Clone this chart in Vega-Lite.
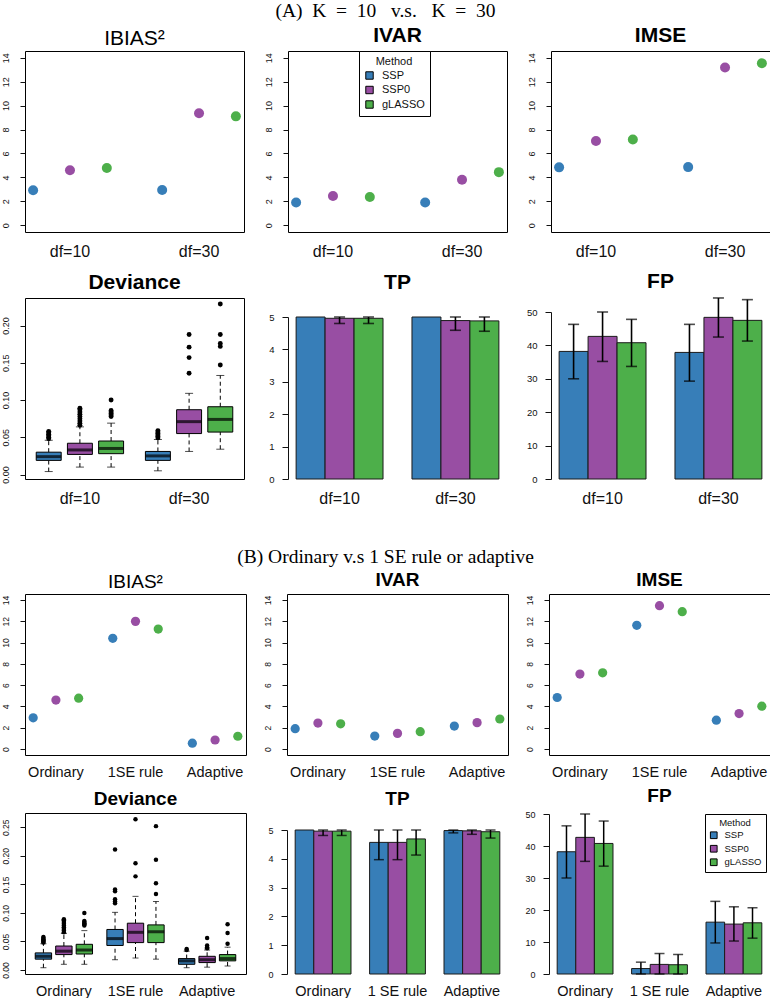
{
  "$schema": "https://vega.github.io/schema/vega-lite/v6.json",
  "background": "white",
  "padding": {"left": 0, "top": 0, "right": 0, "bottom": 0},
  "config": {
    "font": "Liberation Sans",
    "view": {"stroke": "black", "strokeWidth": 1},
    "axis": {"grid": false, "labelColor": "#111111", "tickColor": "#111111", "domainColor": "#111111", "labelFont": "Liberation Sans", "labelOverlap": false, "labelFlush": false},
    "title": {"font": "Liberation Sans", "fontSize": 21, "fontWeight": "bold", "color": "black", "baseline": "alphabetic", "offset": 5, "anchor": "middle"}
  },
  "datasets": {
    "pointsA": [
      {"metric": "IBIAS", "setting": "df=10", "method": "SSP", "value": 2.93},
      {"metric": "IBIAS", "setting": "df=10", "method": "SSP0", "value": 4.6},
      {"metric": "IBIAS", "setting": "df=10", "method": "gLASSO", "value": 4.78},
      {"metric": "IBIAS", "setting": "df=30", "method": "SSP", "value": 2.95},
      {"metric": "IBIAS", "setting": "df=30", "method": "SSP0", "value": 9.36},
      {"metric": "IBIAS", "setting": "df=30", "method": "gLASSO", "value": 9.1},
      {"metric": "IVAR", "setting": "df=10", "method": "SSP", "value": 1.91},
      {"metric": "IVAR", "setting": "df=10", "method": "SSP0", "value": 2.44},
      {"metric": "IVAR", "setting": "df=10", "method": "gLASSO", "value": 2.37},
      {"metric": "IVAR", "setting": "df=30", "method": "SSP", "value": 1.91},
      {"metric": "IVAR", "setting": "df=30", "method": "SSP0", "value": 3.8},
      {"metric": "IVAR", "setting": "df=30", "method": "gLASSO", "value": 4.44},
      {"metric": "IMSE", "setting": "df=10", "method": "SSP", "value": 4.84},
      {"metric": "IMSE", "setting": "df=10", "method": "SSP0", "value": 7.04},
      {"metric": "IMSE", "setting": "df=10", "method": "gLASSO", "value": 7.16},
      {"metric": "IMSE", "setting": "df=30", "method": "SSP", "value": 4.86},
      {"metric": "IMSE", "setting": "df=30", "method": "SSP0", "value": 13.18},
      {"metric": "IMSE", "setting": "df=30", "method": "gLASSO", "value": 13.54}
    ],
    "pointsB": [
      {"metric": "IBIAS", "setting": "Ordinary", "method": "SSP", "value": 2.93},
      {"metric": "IBIAS", "setting": "Ordinary", "method": "SSP0", "value": 4.6},
      {"metric": "IBIAS", "setting": "Ordinary", "method": "gLASSO", "value": 4.78},
      {"metric": "IBIAS", "setting": "1SE rule", "method": "SSP", "value": 10.4},
      {"metric": "IBIAS", "setting": "1SE rule", "method": "SSP0", "value": 11.99},
      {"metric": "IBIAS", "setting": "1SE rule", "method": "gLASSO", "value": 11.27},
      {"metric": "IBIAS", "setting": "Adaptive", "method": "SSP", "value": 0.55},
      {"metric": "IBIAS", "setting": "Adaptive", "method": "SSP0", "value": 0.85},
      {"metric": "IBIAS", "setting": "Adaptive", "method": "gLASSO", "value": 1.2},
      {"metric": "IVAR", "setting": "Ordinary", "method": "SSP", "value": 1.91},
      {"metric": "IVAR", "setting": "Ordinary", "method": "SSP0", "value": 2.44},
      {"metric": "IVAR", "setting": "Ordinary", "method": "gLASSO", "value": 2.37},
      {"metric": "IVAR", "setting": "1SE rule", "method": "SSP", "value": 1.22},
      {"metric": "IVAR", "setting": "1SE rule", "method": "SSP0", "value": 1.47},
      {"metric": "IVAR", "setting": "1SE rule", "method": "gLASSO", "value": 1.63},
      {"metric": "IVAR", "setting": "Adaptive", "method": "SSP", "value": 2.16},
      {"metric": "IVAR", "setting": "Adaptive", "method": "SSP0", "value": 2.48},
      {"metric": "IVAR", "setting": "Adaptive", "method": "gLASSO", "value": 2.82},
      {"metric": "IMSE", "setting": "Ordinary", "method": "SSP", "value": 4.84},
      {"metric": "IMSE", "setting": "Ordinary", "method": "SSP0", "value": 7.04},
      {"metric": "IMSE", "setting": "Ordinary", "method": "gLASSO", "value": 7.16},
      {"metric": "IMSE", "setting": "1SE rule", "method": "SSP", "value": 11.62},
      {"metric": "IMSE", "setting": "1SE rule", "method": "SSP0", "value": 13.46},
      {"metric": "IMSE", "setting": "1SE rule", "method": "gLASSO", "value": 12.9},
      {"metric": "IMSE", "setting": "Adaptive", "method": "SSP", "value": 2.71},
      {"metric": "IMSE", "setting": "Adaptive", "method": "SSP0", "value": 3.33},
      {"metric": "IMSE", "setting": "Adaptive", "method": "gLASSO", "value": 4.02}
    ],
    "boxA": [
      {"setting": "df=10", "method": "SSP", "lo": 0.004, "q1": 0.019, "med": 0.024, "q3": 0.030, "hi": 0.046},
      {"setting": "df=10", "method": "SSP0", "lo": 0.010, "q1": 0.027, "med": 0.033, "q3": 0.042, "hi": 0.064},
      {"setting": "df=10", "method": "gLASSO", "lo": 0.010, "q1": 0.028, "med": 0.035, "q3": 0.045, "hi": 0.069},
      {"setting": "df=30", "method": "SSP", "lo": 0.005, "q1": 0.019, "med": 0.025, "q3": 0.031, "hi": 0.047},
      {"setting": "df=30", "method": "SSP0", "lo": 0.031, "q1": 0.055, "med": 0.071, "q3": 0.087, "hi": 0.109},
      {"setting": "df=30", "method": "gLASSO", "lo": 0.034, "q1": 0.057, "med": 0.074, "q3": 0.091, "hi": 0.133}
    ],
    "outA": [
      {"setting": "df=10", "method": "SSP", "value": 0.048},
      {"setting": "df=10", "method": "SSP", "value": 0.050},
      {"setting": "df=10", "method": "SSP", "value": 0.052},
      {"setting": "df=10", "method": "SSP", "value": 0.054},
      {"setting": "df=10", "method": "SSP", "value": 0.056},
      {"setting": "df=10", "method": "SSP", "value": 0.058},
      {"setting": "df=10", "method": "SSP0", "value": 0.066},
      {"setting": "df=10", "method": "SSP0", "value": 0.069},
      {"setting": "df=10", "method": "SSP0", "value": 0.072},
      {"setting": "df=10", "method": "SSP0", "value": 0.075},
      {"setting": "df=10", "method": "SSP0", "value": 0.078},
      {"setting": "df=10", "method": "SSP0", "value": 0.081},
      {"setting": "df=10", "method": "SSP0", "value": 0.084},
      {"setting": "df=10", "method": "SSP0", "value": 0.087},
      {"setting": "df=10", "method": "SSP0", "value": 0.089},
      {"setting": "df=10", "method": "gLASSO", "value": 0.078},
      {"setting": "df=10", "method": "gLASSO", "value": 0.080},
      {"setting": "df=10", "method": "gLASSO", "value": 0.082},
      {"setting": "df=10", "method": "gLASSO", "value": 0.084},
      {"setting": "df=10", "method": "gLASSO", "value": 0.086},
      {"setting": "df=10", "method": "gLASSO", "value": 0.100},
      {"setting": "df=30", "method": "SSP", "value": 0.049},
      {"setting": "df=30", "method": "SSP", "value": 0.051},
      {"setting": "df=30", "method": "SSP", "value": 0.053},
      {"setting": "df=30", "method": "SSP", "value": 0.055},
      {"setting": "df=30", "method": "SSP", "value": 0.057},
      {"setting": "df=30", "method": "SSP", "value": 0.059},
      {"setting": "df=30", "method": "SSP0", "value": 0.136},
      {"setting": "df=30", "method": "SSP0", "value": 0.157},
      {"setting": "df=30", "method": "SSP0", "value": 0.171},
      {"setting": "df=30", "method": "SSP0", "value": 0.188},
      {"setting": "df=30", "method": "gLASSO", "value": 0.147},
      {"setting": "df=30", "method": "gLASSO", "value": 0.172},
      {"setting": "df=30", "method": "gLASSO", "value": 0.176},
      {"setting": "df=30", "method": "gLASSO", "value": 0.188},
      {"setting": "df=30", "method": "gLASSO", "value": 0.229}
    ],
    "boxB": [
      {"setting": "Ordinary", "method": "SSP", "lo": 0.004, "q1": 0.019, "med": 0.024, "q3": 0.030, "hi": 0.046},
      {"setting": "Ordinary", "method": "SSP0", "lo": 0.010, "q1": 0.027, "med": 0.033, "q3": 0.042, "hi": 0.064},
      {"setting": "Ordinary", "method": "gLASSO", "lo": 0.010, "q1": 0.028, "med": 0.035, "q3": 0.045, "hi": 0.069},
      {"setting": "1SE rule", "method": "SSP", "lo": 0.018, "q1": 0.043, "med": 0.055, "q3": 0.071, "hi": 0.101},
      {"setting": "1SE rule", "method": "SSP0", "lo": 0.021, "q1": 0.048, "med": 0.066, "q3": 0.082, "hi": 0.129},
      {"setting": "1SE rule", "method": "gLASSO", "lo": 0.019, "q1": 0.048, "med": 0.067, "q3": 0.079, "hi": 0.120},
      {"setting": "Adaptive", "method": "SSP", "lo": 0.004, "q1": 0.010, "med": 0.016, "q3": 0.020, "hi": 0.033},
      {"setting": "Adaptive", "method": "SSP0", "lo": 0.005, "q1": 0.013, "med": 0.018, "q3": 0.024, "hi": 0.035},
      {"setting": "Adaptive", "method": "gLASSO", "lo": 0.007, "q1": 0.016, "med": 0.020, "q3": 0.027, "hi": 0.040}
    ],
    "outB": [
      {"setting": "Ordinary", "method": "SSP", "value": 0.048},
      {"setting": "Ordinary", "method": "SSP", "value": 0.050},
      {"setting": "Ordinary", "method": "SSP", "value": 0.052},
      {"setting": "Ordinary", "method": "SSP", "value": 0.054},
      {"setting": "Ordinary", "method": "SSP", "value": 0.056},
      {"setting": "Ordinary", "method": "SSP", "value": 0.058},
      {"setting": "Ordinary", "method": "SSP0", "value": 0.066},
      {"setting": "Ordinary", "method": "SSP0", "value": 0.069},
      {"setting": "Ordinary", "method": "SSP0", "value": 0.072},
      {"setting": "Ordinary", "method": "SSP0", "value": 0.075},
      {"setting": "Ordinary", "method": "SSP0", "value": 0.078},
      {"setting": "Ordinary", "method": "SSP0", "value": 0.081},
      {"setting": "Ordinary", "method": "SSP0", "value": 0.084},
      {"setting": "Ordinary", "method": "SSP0", "value": 0.087},
      {"setting": "Ordinary", "method": "SSP0", "value": 0.089},
      {"setting": "Ordinary", "method": "gLASSO", "value": 0.078},
      {"setting": "Ordinary", "method": "gLASSO", "value": 0.080},
      {"setting": "Ordinary", "method": "gLASSO", "value": 0.082},
      {"setting": "Ordinary", "method": "gLASSO", "value": 0.084},
      {"setting": "Ordinary", "method": "gLASSO", "value": 0.086},
      {"setting": "Ordinary", "method": "gLASSO", "value": 0.100},
      {"setting": "1SE rule", "method": "SSP", "value": 0.117},
      {"setting": "1SE rule", "method": "SSP", "value": 0.120},
      {"setting": "1SE rule", "method": "SSP", "value": 0.124},
      {"setting": "1SE rule", "method": "SSP", "value": 0.138},
      {"setting": "1SE rule", "method": "SSP", "value": 0.141},
      {"setting": "1SE rule", "method": "SSP", "value": 0.211},
      {"setting": "1SE rule", "method": "SSP0", "value": 0.164},
      {"setting": "1SE rule", "method": "SSP0", "value": 0.187},
      {"setting": "1SE rule", "method": "SSP0", "value": 0.264},
      {"setting": "1SE rule", "method": "gLASSO", "value": 0.133},
      {"setting": "1SE rule", "method": "gLASSO", "value": 0.152},
      {"setting": "1SE rule", "method": "gLASSO", "value": 0.193},
      {"setting": "1SE rule", "method": "gLASSO", "value": 0.252},
      {"setting": "Adaptive", "method": "SSP", "value": 0.035},
      {"setting": "Adaptive", "method": "SSP", "value": 0.037},
      {"setting": "Adaptive", "method": "SSP0", "value": 0.038},
      {"setting": "Adaptive", "method": "SSP0", "value": 0.040},
      {"setting": "Adaptive", "method": "SSP0", "value": 0.043},
      {"setting": "Adaptive", "method": "SSP0", "value": 0.056},
      {"setting": "Adaptive", "method": "gLASSO", "value": 0.046},
      {"setting": "Adaptive", "method": "gLASSO", "value": 0.065},
      {"setting": "Adaptive", "method": "gLASSO", "value": 0.080}
    ],
    "barsA": [
      {"metric": "TP", "setting": "df=10", "method": "SSP", "value": 5.0, "lower": null, "upper": null},
      {"metric": "TP", "setting": "df=10", "method": "SSP0", "value": 4.96, "lower": 4.8, "upper": 5.0},
      {"metric": "TP", "setting": "df=10", "method": "gLASSO", "value": 4.96, "lower": 4.8, "upper": 5.0},
      {"metric": "TP", "setting": "df=30", "method": "SSP", "value": 5.0, "lower": null, "upper": null},
      {"metric": "TP", "setting": "df=30", "method": "SSP0", "value": 4.89, "lower": 4.59, "upper": 5.0},
      {"metric": "TP", "setting": "df=30", "method": "gLASSO", "value": 4.88, "lower": 4.56, "upper": 5.0},
      {"metric": "FP", "setting": "df=10", "method": "SSP", "value": 38.2, "lower": 30.0, "upper": 46.3},
      {"metric": "FP", "setting": "df=10", "method": "SSP0", "value": 42.7, "lower": 35.2, "upper": 50.0},
      {"metric": "FP", "setting": "df=10", "method": "gLASSO", "value": 40.8, "lower": 33.7, "upper": 47.8},
      {"metric": "FP", "setting": "df=30", "method": "SSP", "value": 37.9, "lower": 29.3, "upper": 46.3},
      {"metric": "FP", "setting": "df=30", "method": "SSP0", "value": 48.4, "lower": 42.5, "upper": 54.2},
      {"metric": "FP", "setting": "df=30", "method": "gLASSO", "value": 47.5, "lower": 41.3, "upper": 53.7}
    ],
    "barsB": [
      {"metric": "TP", "setting": "Ordinary", "method": "SSP", "value": 5.0, "lower": null, "upper": null},
      {"metric": "TP", "setting": "Ordinary", "method": "SSP0", "value": 4.96, "lower": 4.81, "upper": 5.0},
      {"metric": "TP", "setting": "Ordinary", "method": "gLASSO", "value": 4.96, "lower": 4.81, "upper": 5.0},
      {"metric": "TP", "setting": "1 SE rule", "method": "SSP", "value": 4.57, "lower": 3.97, "upper": 5.0},
      {"metric": "TP", "setting": "1 SE rule", "method": "SSP0", "value": 4.57, "lower": 3.97, "upper": 5.0},
      {"metric": "TP", "setting": "1 SE rule", "method": "gLASSO", "value": 4.69, "lower": 4.13, "upper": 5.0},
      {"metric": "TP", "setting": "Adaptive", "method": "SSP", "value": 4.98, "lower": 4.9, "upper": 5.0},
      {"metric": "TP", "setting": "Adaptive", "method": "SSP0", "value": 4.97, "lower": 4.85, "upper": 5.0},
      {"metric": "TP", "setting": "Adaptive", "method": "gLASSO", "value": 4.94, "lower": 4.72, "upper": 5.0},
      {"metric": "FP", "setting": "Ordinary", "method": "SSP", "value": 38.2, "lower": 30.0, "upper": 46.3},
      {"metric": "FP", "setting": "Ordinary", "method": "SSP0", "value": 42.7, "lower": 35.2, "upper": 50.0},
      {"metric": "FP", "setting": "Ordinary", "method": "gLASSO", "value": 40.8, "lower": 33.7, "upper": 47.8},
      {"metric": "FP", "setting": "1 SE rule", "method": "SSP", "value": 1.7, "lower": 0.0, "upper": 3.7},
      {"metric": "FP", "setting": "1 SE rule", "method": "SSP0", "value": 3.0, "lower": 0.0, "upper": 6.4},
      {"metric": "FP", "setting": "1 SE rule", "method": "gLASSO", "value": 2.9, "lower": 0.0, "upper": 6.1},
      {"metric": "FP", "setting": "Adaptive", "method": "SSP", "value": 16.2, "lower": 9.7, "upper": 22.7},
      {"metric": "FP", "setting": "Adaptive", "method": "SSP0", "value": 15.6, "lower": 10.3, "upper": 21.0},
      {"metric": "FP", "setting": "Adaptive", "method": "gLASSO", "value": 16.0, "lower": 11.2, "upper": 20.7}
    ]
  },
  "resolve": {"scale": {"color": "independent", "xOffset": "independent"}},
  "spacing": 39,
  "vconcat": [
    {
      "title": {"text": "(A)\u00a0 K\u00a0 =\u00a0 10\u00a0\u00a0 v.s.\u00a0\u00a0 K\u00a0 =\u00a0 30", "font": "Liberation Serif", "fontSize": 19.5, "fontWeight": "normal", "anchor": "middle", "frame": "bounds", "baseline": "alphabetic", "offset": -12},
      "columns": 3,
      "bounds": "flush",
      "spacing": {"row": 66, "column": 44},
      "resolve": {"scale": {"color": "independent", "xOffset": "independent"}},
      "concat": [
        {
          "width": 219, "height": 181,
          "title": {"text": "IBIAS²", "fontWeight": "normal", "offset": 2.5},
          "data": {"name": "pointsA"},
          "transform": [{"filter": "datum.metric === 'IBIAS'"}],
          "mark": {"type": "circle", "size": 100, "opacity": 1},
          "encoding": {
            "x": {"field": "setting", "type": "nominal", "sort": ["df=10", "df=30"], "title": null, "scale": {"paddingInner": 0.303, "paddingOuter": 0}, "axis": {"labelAngle": 0, "labelFontSize": 16, "ticks": false, "tickSize": 0, "domain": false, "labelPadding": 24, "labelBaseline": "alphabetic"}},
            "xOffset": {"field": "method", "type": "nominal", "sort": ["SSP", "SSP0", "gLASSO"], "scale": {"type": "point", "padding": 0.22}},
            "y": {"field": "value", "type": "quantitative", "title": null, "scale": {"domain": [-0.56, 14.56], "nice": false, "zero": false}, "axis": {"values": [0, 2, 4, 6, 8, 10, 12, 14], "labelAngle": 270, "labelAlign": "center", "labelBaseline": "bottom", "labelFontSize": 9, "tickSize": 5, "labelPadding": 10, "domain": false}},
            "color": {"field": "method", "type": "nominal", "scale": {"domain": ["SSP", "SSP0", "gLASSO"], "range": ["#377EB8", "#984EA3", "#4DAF4A"]}, "legend": null}
          }
        },
        {
          "width": 219, "height": 181,
          "title": "IVAR",
          "data": {"name": "pointsA"},
          "transform": [{"filter": "datum.metric === 'IVAR'"}],
          "mark": {"type": "circle", "size": 100, "opacity": 1},
          "encoding": {
            "x": {"field": "setting", "type": "nominal", "sort": ["df=10", "df=30"], "title": null, "scale": {"paddingInner": 0.303, "paddingOuter": 0}, "axis": {"labelAngle": 0, "labelFontSize": 16, "ticks": false, "tickSize": 0, "domain": false, "labelPadding": 24, "labelBaseline": "alphabetic"}},
            "xOffset": {"field": "method", "type": "nominal", "sort": ["SSP", "SSP0", "gLASSO"], "scale": {"type": "point", "padding": 0.22}},
            "y": {"field": "value", "type": "quantitative", "title": null, "scale": {"domain": [-0.56, 14.56], "nice": false, "zero": false}, "axis": {"values": [0, 2, 4, 6, 8, 10, 12, 14], "labelAngle": 270, "labelAlign": "center", "labelBaseline": "bottom", "labelFontSize": 9, "tickSize": 5, "labelPadding": 10, "domain": false}},
            "color": {"field": "method", "type": "nominal", "title": "Method", "scale": {"domain": ["SSP", "SSP0", "gLASSO"], "range": ["#377EB8", "#984EA3", "#4DAF4A"]},
              "legend": {"orient": "none", "legendX": 71, "legendY": 0, "titleAnchor": "middle", "titleFontWeight": "normal", "titleFontSize": 11, "titleColor": "#111111", "labelFontSize": 11, "labelColor": "#111111", "labelOffset": 7, "symbolType": "square", "symbolSize": 55, "symbolStrokeColor": "black", "symbolStrokeWidth": 1, "symbolOpacity": 1, "strokeColor": "black", "fillColor": "white", "padding": 5, "rowPadding": 1.5, "titlePadding": 3}}
          }
        },
        {
          "width": 219, "height": 181,
          "title": "IMSE",
          "data": {"name": "pointsA"},
          "transform": [{"filter": "datum.metric === 'IMSE'"}],
          "mark": {"type": "circle", "size": 100, "opacity": 1},
          "encoding": {
            "x": {"field": "setting", "type": "nominal", "sort": ["df=10", "df=30"], "title": null, "scale": {"paddingInner": 0.303, "paddingOuter": 0}, "axis": {"labelAngle": 0, "labelFontSize": 16, "ticks": false, "tickSize": 0, "domain": false, "labelPadding": 24, "labelBaseline": "alphabetic"}},
            "xOffset": {"field": "method", "type": "nominal", "sort": ["SSP", "SSP0", "gLASSO"], "scale": {"type": "point", "padding": 0.22}},
            "y": {"field": "value", "type": "quantitative", "title": null, "scale": {"domain": [-0.56, 14.56], "nice": false, "zero": false}, "axis": {"values": [0, 2, 4, 6, 8, 10, 12, 14], "labelAngle": 270, "labelAlign": "center", "labelBaseline": "bottom", "labelFontSize": 9, "tickSize": 5, "labelPadding": 10, "domain": false}},
            "color": {"field": "method", "type": "nominal", "scale": {"domain": ["SSP", "SSP0", "gLASSO"], "range": ["#377EB8", "#984EA3", "#4DAF4A"]}, "legend": null}
          }
        },
        {
          "width": 219, "height": 181,
          "title": "Deviance",
          "encoding": {
            "x": {"field": "setting", "type": "nominal", "sort": ["df=10", "df=30"], "title": null, "scale": {"paddingInner": 0.1429, "paddingOuter": 0.0743}, "axis": {"labelAngle": 0, "labelFontSize": 16, "ticks": false, "tickSize": 0, "domain": false, "labelPadding": 24, "labelBaseline": "alphabetic"}},
            "xOffset": {"field": "method", "type": "nominal", "sort": ["SSP", "SSP0", "gLASSO"], "scale": {"paddingInner": 0.2, "paddingOuter": 0.1}}
          },
          "layer": [
            {
              "data": {"name": "boxA"},
              "mark": {"type": "rule", "color": "black", "strokeWidth": 1, "strokeDash": [4, 3]},
              "encoding": {
                "y": {"field": "lo", "type": "quantitative", "title": null, "scale": {"domain": [-0.006, 0.237], "nice": false, "zero": false}, "axis": {"values": [0, 0.05, 0.1, 0.15, 0.2], "format": ".2f", "labelAngle": 270, "labelAlign": "center", "labelBaseline": "bottom", "labelFontSize": 9, "tickSize": 5, "labelPadding": 10, "domain": false}},
                "y2": {"field": "q1"}
              }
            },
            {
              "data": {"name": "boxA"},
              "mark": {"type": "rule", "color": "black", "strokeWidth": 1, "strokeDash": [4, 3]},
              "encoding": {"y": {"field": "q3", "type": "quantitative", "title": null, "axis": {"values": [0, 0.05, 0.1, 0.15, 0.2], "format": ".2f", "labelAngle": 270, "labelAlign": "center", "labelBaseline": "bottom", "labelFontSize": 9, "tickSize": 5, "labelPadding": 10, "domain": false}}, "y2": {"field": "hi"}}
            },
            {
              "data": {"name": "boxA"},
              "mark": {"type": "tick", "orient": "horizontal", "size": 8, "thickness": 1, "color": "black"},
              "encoding": {"y": {"field": "lo", "type": "quantitative", "title": null, "axis": {"values": [0, 0.05, 0.1, 0.15, 0.2], "format": ".2f", "labelAngle": 270, "labelAlign": "center", "labelBaseline": "bottom", "labelFontSize": 9, "tickSize": 5, "labelPadding": 10, "domain": false}}}
            },
            {
              "data": {"name": "boxA"},
              "mark": {"type": "tick", "orient": "horizontal", "size": 8, "thickness": 1, "color": "black"},
              "encoding": {"y": {"field": "hi", "type": "quantitative", "title": null, "axis": {"values": [0, 0.05, 0.1, 0.15, 0.2], "format": ".2f", "labelAngle": 270, "labelAlign": "center", "labelBaseline": "bottom", "labelFontSize": 9, "tickSize": 5, "labelPadding": 10, "domain": false}}}
            },
            {
              "data": {"name": "boxA"},
              "mark": {"type": "bar", "stroke": "black", "strokeWidth": 1, "opacity": 1},
              "encoding": {
                "y": {"field": "q1", "type": "quantitative", "title": null, "axis": {"values": [0, 0.05, 0.1, 0.15, 0.2], "format": ".2f", "labelAngle": 270, "labelAlign": "center", "labelBaseline": "bottom", "labelFontSize": 9, "tickSize": 5, "labelPadding": 10, "domain": false}}, "y2": {"field": "q3"},
                "color": {"field": "method", "type": "nominal", "scale": {"domain": ["SSP", "SSP0", "gLASSO"], "range": ["#377EB8", "#984EA3", "#4DAF4A"]}, "legend": null}
              }
            },
            {
              "data": {"name": "boxA"},
              "mark": {"type": "tick", "orient": "horizontal", "size": 25, "thickness": 3, "color": "black"},
              "encoding": {"y": {"field": "med", "type": "quantitative", "title": null, "axis": {"values": [0, 0.05, 0.1, 0.15, 0.2], "format": ".2f", "labelAngle": 270, "labelAlign": "center", "labelBaseline": "bottom", "labelFontSize": 9, "tickSize": 5, "labelPadding": 10, "domain": false}}}
            },
            {
              "data": {"name": "outA"},
              "mark": {"type": "circle", "size": 24, "color": "black", "opacity": 1},
              "encoding": {"y": {"field": "value", "type": "quantitative", "title": null, "axis": {"values": [0, 0.05, 0.1, 0.15, 0.2], "format": ".2f", "labelAngle": 270, "labelAlign": "center", "labelBaseline": "bottom", "labelFontSize": 9, "tickSize": 5, "labelPadding": 10, "domain": false}}}
            }
          ]
        },
        {
          "width": 219, "height": 181,
          "title": "TP",
          "view": {"stroke": null},
          "data": {"name": "barsA"},
          "transform": [{"filter": "datum.metric === 'TP'"}],
          "encoding": {
            "x": {"field": "setting", "type": "nominal", "sort": ["df=10", "df=30"], "title": null, "scale": {"paddingInner": 0.25, "paddingOuter": 0.07}, "axis": {"labelAngle": 0, "labelFontSize": 16, "ticks": false, "tickSize": 0, "domain": false, "labelPadding": 24, "labelBaseline": "alphabetic"}},
            "xOffset": {"field": "method", "type": "nominal", "sort": ["SSP", "SSP0", "gLASSO"], "scale": {"paddingInner": 0, "paddingOuter": 0}}
          },
          "layer": [
            {
              "mark": {"type": "bar", "stroke": "#1a1a1a", "strokeWidth": 1, "opacity": 1},
              "encoding": {
                "y": {"field": "value", "type": "quantitative", "title": null, "scale": {"domain": [0, 5], "range": [181, 19], "nice": false}, "axis": {"values": [0, 1, 2, 3, 4, 5], "labelAngle": 0, "labelFontSize": 9.5, "tickSize": 6, "labelPadding": 8, "domain": true, "labelOverlap": false}},
                "color": {"field": "method", "type": "nominal", "scale": {"domain": ["SSP", "SSP0", "gLASSO"], "range": ["#377EB8", "#984EA3", "#4DAF4A"]}, "legend": null}
              }
            },
            {"mark": {"type": "rule", "color": "black", "strokeWidth": 1.6}, "encoding": {"y": {"field": "lower", "type": "quantitative", "title": null, "axis": {"values": [0, 1, 2, 3, 4, 5], "labelAngle": 0, "labelFontSize": 9.5, "tickSize": 6, "labelPadding": 8, "domain": true, "labelOverlap": false}}, "y2": {"field": "upper"}}},
            {"mark": {"type": "tick", "orient": "horizontal", "size": 11, "thickness": 1.6, "color": "black"}, "encoding": {"y": {"field": "lower", "type": "quantitative", "title": null, "axis": {"values": [0, 1, 2, 3, 4, 5], "labelAngle": 0, "labelFontSize": 9.5, "tickSize": 6, "labelPadding": 8, "domain": true, "labelOverlap": false}}}},
            {"mark": {"type": "tick", "orient": "horizontal", "size": 11, "thickness": 1.6, "color": "black"}, "encoding": {"y": {"field": "upper", "type": "quantitative", "title": null, "axis": {"values": [0, 1, 2, 3, 4, 5], "labelAngle": 0, "labelFontSize": 9.5, "tickSize": 6, "labelPadding": 8, "domain": true, "labelOverlap": false}}}}
          ]
        },
        {
          "width": 219, "height": 181,
          "title": "FP",
          "view": {"stroke": null},
          "data": {"name": "barsA"},
          "transform": [{"filter": "datum.metric === 'FP'"}],
          "encoding": {
            "x": {"field": "setting", "type": "nominal", "sort": ["df=10", "df=30"], "title": null, "scale": {"paddingInner": 0.25, "paddingOuter": 0.07}, "axis": {"labelAngle": 0, "labelFontSize": 16, "ticks": false, "tickSize": 0, "domain": false, "labelPadding": 24, "labelBaseline": "alphabetic"}},
            "xOffset": {"field": "method", "type": "nominal", "sort": ["SSP", "SSP0", "gLASSO"], "scale": {"paddingInner": 0, "paddingOuter": 0}}
          },
          "layer": [
            {
              "mark": {"type": "bar", "stroke": "#1a1a1a", "strokeWidth": 1, "opacity": 1},
              "encoding": {
                "y": {"field": "value", "type": "quantitative", "title": null, "scale": {"domain": [0, 50], "range": [181, 14], "nice": false}, "axis": {"values": [0, 10, 20, 30, 40, 50], "labelAngle": 0, "labelFontSize": 9.5, "tickSize": 6, "labelPadding": 8, "domain": true, "labelOverlap": false}},
                "color": {"field": "method", "type": "nominal", "scale": {"domain": ["SSP", "SSP0", "gLASSO"], "range": ["#377EB8", "#984EA3", "#4DAF4A"]}, "legend": null}
              }
            },
            {"mark": {"type": "rule", "color": "black", "strokeWidth": 1.6}, "encoding": {"y": {"field": "lower", "type": "quantitative", "title": null, "axis": {"values": [0, 10, 20, 30, 40, 50], "labelAngle": 0, "labelFontSize": 9.5, "tickSize": 6, "labelPadding": 8, "domain": true, "labelOverlap": false}}, "y2": {"field": "upper"}}},
            {"mark": {"type": "tick", "orient": "horizontal", "size": 11, "thickness": 1.6, "color": "black"}, "encoding": {"y": {"field": "lower", "type": "quantitative", "title": null, "axis": {"values": [0, 10, 20, 30, 40, 50], "labelAngle": 0, "labelFontSize": 9.5, "tickSize": 6, "labelPadding": 8, "domain": true, "labelOverlap": false}}}},
            {"mark": {"type": "tick", "orient": "horizontal", "size": 11, "thickness": 1.6, "color": "black"}, "encoding": {"y": {"field": "upper", "type": "quantitative", "title": null, "axis": {"values": [0, 10, 20, 30, 40, 50], "labelAngle": 0, "labelFontSize": 9.5, "tickSize": 6, "labelPadding": 8, "domain": true, "labelOverlap": false}}}}
          ]
        }
      ]
    },
    {
      "title": {"text": "(B) Ordinary v.s 1 SE rule or adaptive", "font": "Liberation Serif", "fontSize": 19.5, "fontWeight": "normal", "anchor": "middle", "frame": "bounds", "baseline": "alphabetic", "offset": -12},
      "columns": 3,
      "bounds": "flush",
      "spacing": {"row": 58, "column": 41},
      "resolve": {"scale": {"color": "independent", "xOffset": "independent"}},
      "concat": [
        {
          "width": 221, "height": 161,
          "title": {"text": "IBIAS²", "fontWeight": "normal", "fontSize": 19, "offset": 2},
          "data": {"name": "pointsB"},
          "transform": [{"filter": "datum.metric === 'IBIAS'"}],
          "mark": {"type": "circle", "size": 85, "opacity": 1},
          "encoding": {
            "x": {"field": "setting", "type": "nominal", "sort": ["Ordinary", "1SE rule", "Adaptive"], "title": null, "scale": {"paddingInner": 0.2229, "paddingOuter": 0}, "axis": {"labelAngle": 0, "labelFontSize": 14.5, "ticks": false, "tickSize": 0, "domain": false, "labelPadding": 21, "labelBaseline": "alphabetic"}},
            "xOffset": {"field": "method", "type": "nominal", "sort": ["SSP", "SSP0", "gLASSO"], "scale": {"type": "point", "padding": 0.36}},
            "y": {"field": "value", "type": "quantitative", "title": null, "scale": {"domain": [-0.56, 14.56], "nice": false, "zero": false}, "axis": {"values": [0, 2, 4, 6, 8, 10, 12, 14], "labelAngle": 270, "labelAlign": "center", "labelBaseline": "bottom", "labelFontSize": 8.5, "tickSize": 5, "labelPadding": 10, "domain": false}},
            "color": {"field": "method", "type": "nominal", "scale": {"domain": ["SSP", "SSP0", "gLASSO"], "range": ["#377EB8", "#984EA3", "#4DAF4A"]}, "legend": null}
          }
        },
        {
          "width": 221, "height": 161,
          "title": {"text": "IVAR", "fontSize": 19, "offset": 4.5},
          "data": {"name": "pointsB"},
          "transform": [{"filter": "datum.metric === 'IVAR'"}],
          "mark": {"type": "circle", "size": 85, "opacity": 1},
          "encoding": {
            "x": {"field": "setting", "type": "nominal", "sort": ["Ordinary", "1SE rule", "Adaptive"], "title": null, "scale": {"paddingInner": 0.2229, "paddingOuter": 0}, "axis": {"labelAngle": 0, "labelFontSize": 14.5, "ticks": false, "tickSize": 0, "domain": false, "labelPadding": 21, "labelBaseline": "alphabetic"}},
            "xOffset": {"field": "method", "type": "nominal", "sort": ["SSP", "SSP0", "gLASSO"], "scale": {"type": "point", "padding": 0.36}},
            "y": {"field": "value", "type": "quantitative", "title": null, "scale": {"domain": [-0.56, 14.56], "nice": false, "zero": false}, "axis": {"values": [0, 2, 4, 6, 8, 10, 12, 14], "labelAngle": 270, "labelAlign": "center", "labelBaseline": "bottom", "labelFontSize": 8.5, "tickSize": 5, "labelPadding": 10, "domain": false}},
            "color": {"field": "method", "type": "nominal", "scale": {"domain": ["SSP", "SSP0", "gLASSO"], "range": ["#377EB8", "#984EA3", "#4DAF4A"]}, "legend": null}
          }
        },
        {
          "width": 221, "height": 161,
          "title": {"text": "IMSE", "fontSize": 19, "offset": 4.5},
          "data": {"name": "pointsB"},
          "transform": [{"filter": "datum.metric === 'IMSE'"}],
          "mark": {"type": "circle", "size": 85, "opacity": 1},
          "encoding": {
            "x": {"field": "setting", "type": "nominal", "sort": ["Ordinary", "1SE rule", "Adaptive"], "title": null, "scale": {"paddingInner": 0.2229, "paddingOuter": 0}, "axis": {"labelAngle": 0, "labelFontSize": 14.5, "ticks": false, "tickSize": 0, "domain": false, "labelPadding": 21, "labelBaseline": "alphabetic"}},
            "xOffset": {"field": "method", "type": "nominal", "sort": ["SSP", "SSP0", "gLASSO"], "scale": {"type": "point", "padding": 0.36}},
            "y": {"field": "value", "type": "quantitative", "title": null, "scale": {"domain": [-0.56, 14.56], "nice": false, "zero": false}, "axis": {"values": [0, 2, 4, 6, 8, 10, 12, 14], "labelAngle": 270, "labelAlign": "center", "labelBaseline": "bottom", "labelFontSize": 8.5, "tickSize": 5, "labelPadding": 10, "domain": false}},
            "color": {"field": "method", "type": "nominal", "scale": {"domain": ["SSP", "SSP0", "gLASSO"], "range": ["#377EB8", "#984EA3", "#4DAF4A"]}, "legend": null}
          }
        },
        {
          "width": 221, "height": 161,
          "title": {"text": "Deviance", "fontSize": 19, "offset": 4.5},
          "encoding": {
            "x": {"field": "setting", "type": "nominal", "sort": ["Ordinary", "1SE rule", "Adaptive"], "title": null, "scale": {"paddingInner": 0.1429, "paddingOuter": 0.1143}, "axis": {"labelAngle": 0, "labelFontSize": 14.5, "ticks": false, "tickSize": 0, "domain": false, "labelPadding": 21, "labelBaseline": "alphabetic"}},
            "xOffset": {"field": "method", "type": "nominal", "sort": ["SSP", "SSP0", "gLASSO"], "scale": {"paddingInner": 0.2, "paddingOuter": 0.1}}
          },
          "layer": [
            {
              "data": {"name": "boxB"},
              "mark": {"type": "rule", "color": "black", "strokeWidth": 1, "strokeDash": [4, 3]},
              "encoding": {
                "y": {"field": "lo", "type": "quantitative", "title": null, "scale": {"domain": [-0.007, 0.275], "nice": false, "zero": false}, "axis": {"values": [0, 0.05, 0.1, 0.15, 0.2, 0.25], "format": ".2f", "labelAngle": 270, "labelAlign": "center", "labelBaseline": "bottom", "labelFontSize": 8.5, "tickSize": 5, "labelPadding": 10, "domain": false}},
                "y2": {"field": "q1"}
              }
            },
            {
              "data": {"name": "boxB"},
              "mark": {"type": "rule", "color": "black", "strokeWidth": 1, "strokeDash": [4, 3]},
              "encoding": {"y": {"field": "q3", "type": "quantitative", "title": null, "axis": {"values": [0, 0.05, 0.1, 0.15, 0.2, 0.25], "format": ".2f", "labelAngle": 270, "labelAlign": "center", "labelBaseline": "bottom", "labelFontSize": 8.5, "tickSize": 5, "labelPadding": 10, "domain": false}}, "y2": {"field": "hi"}}
            },
            {
              "data": {"name": "boxB"},
              "mark": {"type": "tick", "orient": "horizontal", "size": 6, "thickness": 1, "color": "black"},
              "encoding": {"y": {"field": "lo", "type": "quantitative", "title": null, "axis": {"values": [0, 0.05, 0.1, 0.15, 0.2, 0.25], "format": ".2f", "labelAngle": 270, "labelAlign": "center", "labelBaseline": "bottom", "labelFontSize": 8.5, "tickSize": 5, "labelPadding": 10, "domain": false}}}
            },
            {
              "data": {"name": "boxB"},
              "mark": {"type": "tick", "orient": "horizontal", "size": 6, "thickness": 1, "color": "black"},
              "encoding": {"y": {"field": "hi", "type": "quantitative", "title": null, "axis": {"values": [0, 0.05, 0.1, 0.15, 0.2, 0.25], "format": ".2f", "labelAngle": 270, "labelAlign": "center", "labelBaseline": "bottom", "labelFontSize": 8.5, "tickSize": 5, "labelPadding": 10, "domain": false}}}
            },
            {
              "data": {"name": "boxB"},
              "mark": {"type": "bar", "stroke": "black", "strokeWidth": 1, "opacity": 1},
              "encoding": {
                "y": {"field": "q1", "type": "quantitative", "title": null, "axis": {"values": [0, 0.05, 0.1, 0.15, 0.2, 0.25], "format": ".2f", "labelAngle": 270, "labelAlign": "center", "labelBaseline": "bottom", "labelFontSize": 8.5, "tickSize": 5, "labelPadding": 10, "domain": false}}, "y2": {"field": "q3"},
                "color": {"field": "method", "type": "nominal", "scale": {"domain": ["SSP", "SSP0", "gLASSO"], "range": ["#377EB8", "#984EA3", "#4DAF4A"]}, "legend": null}
              }
            },
            {
              "data": {"name": "boxB"},
              "mark": {"type": "tick", "orient": "horizontal", "size": 16.4, "thickness": 3, "color": "black"},
              "encoding": {"y": {"field": "med", "type": "quantitative", "title": null, "axis": {"values": [0, 0.05, 0.1, 0.15, 0.2, 0.25], "format": ".2f", "labelAngle": 270, "labelAlign": "center", "labelBaseline": "bottom", "labelFontSize": 8.5, "tickSize": 5, "labelPadding": 10, "domain": false}}}
            },
            {
              "data": {"name": "outB"},
              "mark": {"type": "circle", "size": 20, "color": "black", "opacity": 1},
              "encoding": {"y": {"field": "value", "type": "quantitative", "title": null, "axis": {"values": [0, 0.05, 0.1, 0.15, 0.2, 0.25], "format": ".2f", "labelAngle": 270, "labelAlign": "center", "labelBaseline": "bottom", "labelFontSize": 8.5, "tickSize": 5, "labelPadding": 10, "domain": false}}}
            }
          ]
        },
        {
          "width": 221, "height": 161,
          "title": {"text": "TP", "fontSize": 19, "offset": 4.5},
          "view": {"stroke": null},
          "data": {"name": "barsB"},
          "transform": [{"filter": "datum.metric === 'TP'"}],
          "encoding": {
            "x": {"field": "setting", "type": "nominal", "sort": ["Ordinary", "1 SE rule", "Adaptive"], "title": null, "scale": {"paddingInner": 0.25, "paddingOuter": 0.11}, "axis": {"labelAngle": 0, "labelFontSize": 14.5, "ticks": false, "tickSize": 0, "domain": false, "labelPadding": 21, "labelBaseline": "alphabetic"}},
            "xOffset": {"field": "method", "type": "nominal", "sort": ["SSP", "SSP0", "gLASSO"], "scale": {"paddingInner": 0, "paddingOuter": 0}}
          },
          "layer": [
            {
              "mark": {"type": "bar", "stroke": "#1a1a1a", "strokeWidth": 1, "opacity": 1},
              "encoding": {
                "y": {"field": "value", "type": "quantitative", "title": null, "scale": {"domain": [0, 5], "range": [161, 17], "nice": false}, "axis": {"values": [0, 1, 2, 3, 4, 5], "labelAngle": 0, "labelFontSize": 9, "tickSize": 6, "labelPadding": 8, "domain": true, "labelOverlap": false}},
                "color": {"field": "method", "type": "nominal", "scale": {"domain": ["SSP", "SSP0", "gLASSO"], "range": ["#377EB8", "#984EA3", "#4DAF4A"]}, "legend": null}
              }
            },
            {"mark": {"type": "rule", "color": "black", "strokeWidth": 1.5}, "encoding": {"y": {"field": "lower", "type": "quantitative", "title": null, "axis": {"values": [0, 1, 2, 3, 4, 5], "labelAngle": 0, "labelFontSize": 9, "tickSize": 6, "labelPadding": 8, "domain": true, "labelOverlap": false}}, "y2": {"field": "upper"}}},
            {"mark": {"type": "tick", "orient": "horizontal", "size": 10, "thickness": 1.5, "color": "black"}, "encoding": {"y": {"field": "lower", "type": "quantitative", "title": null, "axis": {"values": [0, 1, 2, 3, 4, 5], "labelAngle": 0, "labelFontSize": 9, "tickSize": 6, "labelPadding": 8, "domain": true, "labelOverlap": false}}}},
            {"mark": {"type": "tick", "orient": "horizontal", "size": 10, "thickness": 1.5, "color": "black"}, "encoding": {"y": {"field": "upper", "type": "quantitative", "title": null, "axis": {"values": [0, 1, 2, 3, 4, 5], "labelAngle": 0, "labelFontSize": 9, "tickSize": 6, "labelPadding": 8, "domain": true, "labelOverlap": false}}}}
          ]
        },
        {
          "width": 221, "height": 161,
          "title": {"text": "FP", "fontSize": 19, "offset": 4.5},
          "view": {"stroke": null},
          "data": {"name": "barsB"},
          "transform": [{"filter": "datum.metric === 'FP'"}],
          "encoding": {
            "x": {"field": "setting", "type": "nominal", "sort": ["Ordinary", "1 SE rule", "Adaptive"], "title": null, "scale": {"paddingInner": 0.25, "paddingOuter": 0.11}, "axis": {"labelAngle": 0, "labelFontSize": 14.5, "ticks": false, "tickSize": 0, "domain": false, "labelPadding": 21, "labelBaseline": "alphabetic"}},
            "xOffset": {"field": "method", "type": "nominal", "sort": ["SSP", "SSP0", "gLASSO"], "scale": {"paddingInner": 0, "paddingOuter": 0}}
          },
          "layer": [
            {
              "mark": {"type": "bar", "stroke": "#1a1a1a", "strokeWidth": 1, "opacity": 1},
              "encoding": {
                "y": {"field": "value", "type": "quantitative", "title": null, "scale": {"domain": [0, 50], "range": [161, 1], "nice": false}, "axis": {"values": [0, 10, 20, 30, 40, 50], "labelAngle": 0, "labelFontSize": 9, "tickSize": 6, "labelPadding": 8, "domain": true, "labelOverlap": false}},
                "color": {"field": "method", "type": "nominal", "title": "Method", "scale": {"domain": ["SSP", "SSP0", "gLASSO"], "range": ["#377EB8", "#984EA3", "#4DAF4A"]},
                  "legend": {"orient": "none", "legendX": 156, "legendY": 1, "titleAnchor": "middle", "titleFontWeight": "normal", "titleFontSize": 9.5, "titleColor": "#111111", "labelFontSize": 9.5, "labelColor": "#111111", "labelOffset": 6, "symbolType": "square", "symbolSize": 45, "symbolStrokeColor": "black", "symbolStrokeWidth": 1, "symbolOpacity": 1, "strokeColor": "black", "fillColor": "white", "padding": 4, "rowPadding": 1.5, "titlePadding": 3}}
              }
            },
            {"mark": {"type": "rule", "color": "black", "strokeWidth": 1.5}, "encoding": {"y": {"field": "lower", "type": "quantitative", "title": null, "axis": {"values": [0, 10, 20, 30, 40, 50], "labelAngle": 0, "labelFontSize": 9, "tickSize": 6, "labelPadding": 8, "domain": true, "labelOverlap": false}}, "y2": {"field": "upper"}}},
            {"mark": {"type": "tick", "orient": "horizontal", "size": 10, "thickness": 1.5, "color": "black"}, "encoding": {"y": {"field": "lower", "type": "quantitative", "title": null, "axis": {"values": [0, 10, 20, 30, 40, 50], "labelAngle": 0, "labelFontSize": 9, "tickSize": 6, "labelPadding": 8, "domain": true, "labelOverlap": false}}}},
            {"mark": {"type": "tick", "orient": "horizontal", "size": 10, "thickness": 1.5, "color": "black"}, "encoding": {"y": {"field": "upper", "type": "quantitative", "title": null, "axis": {"values": [0, 10, 20, 30, 40, 50], "labelAngle": 0, "labelFontSize": 9, "tickSize": 6, "labelPadding": 8, "domain": true, "labelOverlap": false}}}}
          ]
        }
      ]
    }
  ]
}
